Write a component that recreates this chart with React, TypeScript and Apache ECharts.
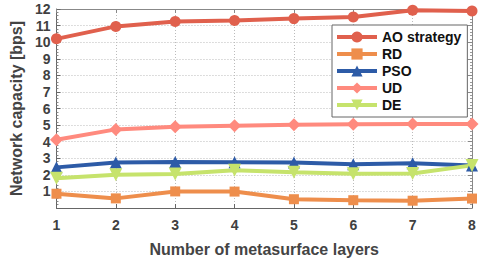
import React, { useEffect, useRef } from "react";
import * as echarts from "echarts";

const layers = [1, 2, 3, 4, 5, 6, 7, 8];
const aoStrategy = [10.2, 10.95, 11.25, 11.3, 11.42, 11.52, 11.92, 11.88];
const rd = [0.86, 0.58, 1.0, 0.99, 0.53, 0.47, 0.44, 0.57];
const pso = [2.45, 2.75, 2.77, 2.76, 2.74, 2.64, 2.7, 2.56];
const ud = [4.12, 4.74, 4.9, 4.96, 5.02, 5.05, 5.07, 5.07];
const de = [1.8, 2.0, 2.05, 2.28, 2.16, 2.06, 2.08, 2.57];

const seriesDefs = [
  { name: "AO strategy", data: aoStrategy, color: "#E0604D", symbol: "circle", size: 11, rotate: 0 },
  { name: "RD", data: rd, color: "#EE8E4C", symbol: "rect", size: 10, rotate: 0 },
  { name: "PSO", data: pso, color: "#2D5BA7", symbol: "triangle", size: 12, rotate: 0 },
  { name: "UD", data: ud, color: "#FF8A7E", symbol: "diamond", size: 13, rotate: 0 },
  { name: "DE", data: de, color: "#C6E36C", symbol: "triangle", size: 13, rotate: 180 },
];

export default function App() {
  const ref = useRef<HTMLDivElement>(null);
  useEffect(() => {
    const chart = echarts.init(ref.current!, null, { renderer: "svg" });
    const font = "'Liberation Sans', Arial, sans-serif";
    const grid = { left: 42, right: 10, top: 9, bottom: 48 };
    chart.setOption({
      animation: false,
      grid,
      textStyle: { fontFamily: font },
      xAxis: [
        {
          type: "value",
          min: 1,
          max: 8,
          interval: 1,
          name: "Number of metasurface layers",
          nameLocation: "middle",
          nameGap: 33,
          nameTextStyle: { fontSize: 16, fontWeight: "bold", color: "#444", fontFamily: font },
          axisLine: { show: true, onZero: false, lineStyle: { color: "#666", width: 1 } },
          axisTick: { show: true, inside: true, length: 4, lineStyle: { color: "#666" } },
          axisLabel: { fontSize: 14, fontWeight: "bold", color: "#404040", margin: 10, fontFamily: font },
          splitLine: { show: true, lineStyle: { color: "#bbb", type: [1, 2], width: 1 } },
        },
        {
          type: "value",
          position: "top",
          min: 1,
          max: 8,
          interval: 1,
          axisLine: { show: true, onZero: false, lineStyle: { color: "#888", width: 1 } },
          axisTick: { show: true, inside: true, length: 4, lineStyle: { color: "#888" } },
          axisLabel: { show: false },
          splitLine: { show: false },
        },
      ],
      yAxis: [
        {
          type: "value",
          min: 0,
          max: 12,
          interval: 1,
          name: "Network capacity [bps]",
          nameLocation: "middle",
          nameGap: 29,
          nameTextStyle: { fontSize: 16, fontWeight: "bold", color: "#444", fontFamily: font },
          axisLine: { show: true, lineStyle: { color: "#666", width: 1 } },
          axisTick: { show: true, inside: true, length: 4, lineStyle: { color: "#666" } },
          minorTick: { show: true, splitNumber: 5, length: 2, lineStyle: { color: "#888" } },
          axisLabel: {
            fontSize: 14,
            fontWeight: "bold",
            color: "#404040",
            margin: 6,
            fontFamily: font,
            formatter: (v: number) => (v === 0 ? "" : String(v)),
          },
          splitLine: { show: true, lineStyle: { color: "#bbb", type: [1, 2], width: 1 } },
        },
        {
          type: "value",
          position: "right",
          min: 0,
          max: 12,
          interval: 1,
          axisLine: { show: true, lineStyle: { color: "#888", width: 1 } },
          axisTick: { show: true, inside: true, length: 4, lineStyle: { color: "#888" } },
          minorTick: { show: true, splitNumber: 5, length: 2, lineStyle: { color: "#999" } },
          axisLabel: { show: false },
          splitLine: { show: false },
        },
      ],
      legend: {
        orient: "vertical",
        left: 332,
        top: 25,
        width: 137,
        padding: [5, 6, 5, 3],
        itemGap: 3,
        itemWidth: 40,
        itemHeight: 14,
        borderColor: "#666",
        borderWidth: 1,
        backgroundColor: "#fff",
        lineStyle: { width: 4 },
        textStyle: { fontSize: 14, fontWeight: "bold", color: "#111", fontFamily: font },
        data: seriesDefs.map((s) => s.name),
      },
      series: seriesDefs.map((s) => ({
        name: s.name,
        type: "line",
        data: layers.map((x, i) => [x, s.data[i]]),
        symbol: s.symbol,
        symbolSize: s.size,
        symbolRotate: s.rotate,
        showAllSymbol: true,
        lineStyle: { color: s.color, width: 4 },
        itemStyle: { color: s.color },
        emphasis: { disabled: true },
        z: 3,
      })),
    });
    return () => chart.dispose();
  }, []);
  return <div ref={ref} style={{ width: 482, height: 262, position: "absolute", left: 0, top: 0 }} />;
}
